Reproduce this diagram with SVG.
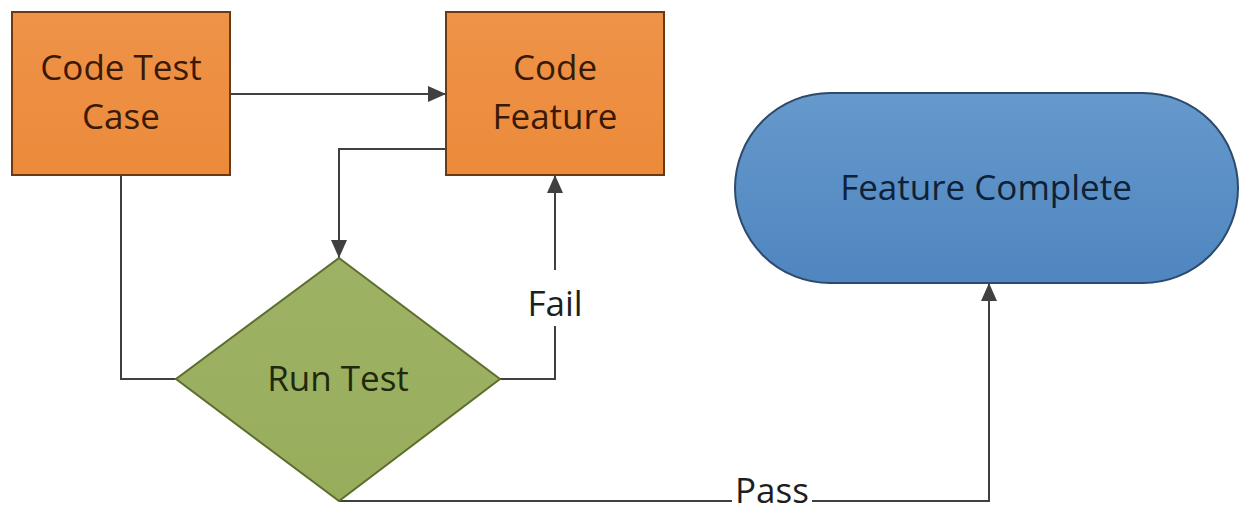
<svg xmlns="http://www.w3.org/2000/svg" width="1248" height="514" viewBox="0 0 1248 514">
  <defs>
    <linearGradient id="orangeFill" x1="0" y1="0" x2="0" y2="1">
      <stop offset="0" stop-color="#EE9349"/>
      <stop offset="1" stop-color="#EC8A3A"/>
    </linearGradient>
    <linearGradient id="blueFill" x1="0" y1="0" x2="0" y2="1">
      <stop offset="0" stop-color="#6699CC"/>
      <stop offset="1" stop-color="#4F86C0"/>
    </linearGradient>
    <linearGradient id="greenFill" x1="0" y1="0" x2="0" y2="1">
      <stop offset="0" stop-color="#9DB264"/>
      <stop offset="1" stop-color="#98AD5C"/>
    </linearGradient>
    <marker id="arrow" viewBox="0 0 18 16" refX="18" refY="8" markerWidth="18" markerHeight="16" markerUnits="userSpaceOnUse" orient="auto">
      <path d="M0,0 L18,8 L0,16 Z" fill="#404040"/>
    </marker>
  </defs>
  <style>
    .box { fill: url(#orangeFill); stroke: #6B3A12; stroke-width: 2; }
    .boxText { fill: #3A1A05; }
    .lbl { font-family: "Open Sans", "Noto Sans", "Liberation Sans", sans-serif; font-size: 35px; text-anchor: middle; }
    .edge { fill: none; stroke: #404040; stroke-width: 2; }
    .edgeText { fill: #1E1E1E; }
  </style>

  <rect width="1248" height="514" fill="#FFFFFF"/>

  <!-- connectors -->
  <g id="connectors">
    <path class="edge" d="M230,94 H446" marker-end="url(#arrow)"/>
    <path class="edge" d="M446,149 H339 V258" marker-end="url(#arrow)"/>
    <path class="edge" d="M121,175 V379 H176"/>
    <path class="edge" d="M500,379 H555 V326"/>
    <path class="edge" d="M555,270 V175" marker-end="url(#arrow)"/>
    <text class="lbl edgeText" x="555" y="316">Fail</text>
    <path class="edge" d="M339,501 H732"/>
    <path class="edge" d="M812,501 H989 V283" marker-end="url(#arrow)"/>
    <text class="lbl edgeText" x="772" y="503" font-size="32">Pass</text>
  </g>

  <!-- Code Test Case -->
  <g id="code-test-case">
    <rect class="box" x="12" y="12" width="218" height="163"/>
    <text class="lbl boxText" x="121" y="80">Code Test</text>
    <text class="lbl boxText" x="121" y="129">Case</text>
  </g>

  <!-- Code Feature -->
  <g id="code-feature">
    <rect class="box" x="446" y="12" width="218" height="163"/>
    <text class="lbl boxText" x="555" y="80">Code</text>
    <text class="lbl boxText" x="555" y="129">Feature</text>
  </g>

  <!-- Run Test -->
  <g id="run-test">
    <polygon points="339,258 500,379 339,501 176,379" fill="url(#greenFill)" stroke="#5C6E2E" stroke-width="2"/>
    <text class="lbl" x="338" y="391" fill="#1F2A0C">Run Test</text>
  </g>

  <!-- Feature Complete -->
  <g id="feature-complete">
    <rect x="735" y="93" width="503" height="190" rx="95" ry="95" fill="url(#blueFill)" stroke="#2C4A6C" stroke-width="2"/>
    <text class="lbl" x="986" y="200" fill="#0E2136">Feature Complete</text>
  </g>
</svg>
